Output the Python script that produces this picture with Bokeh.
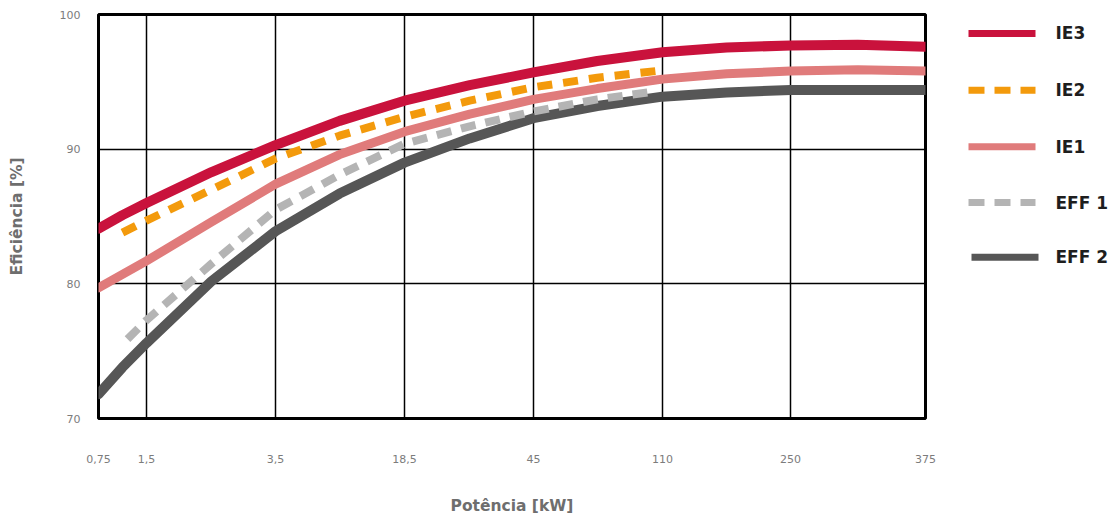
import numpy as np
from bokeh.plotting import figure
from bokeh.layouts import row
from bokeh.models import Range1d, FixedTicker
from bokeh.core.properties import value
from bokeh.embed import file_html
from bokeh.resources import INLINE

# ---- data ----
tick_kw = [0.75, 1.5, 3.5, 18.5, 45, 110, 250, 375]
tick_labels = ["0,75", "1,5", "3,5", "18,5", "45", "110", "250", "375"]
y_ticks = [70, 80, 90, 100]

kw_full = [0.75, 1.06, 1.5, 2.3, 3.5, 8, 18.5, 29, 45, 70, 110, 166, 250, 306, 375]
ie3 = [84.1, 85.1, 86.0, 88.3, 90.3, 92.1, 93.6, 94.75, 95.7, 96.55, 97.2, 97.55, 97.7, 97.75, 97.6]
ie1 = [79.7, 80.7, 81.7, 84.6, 87.4, 89.6, 91.3, 92.6, 93.7, 94.5, 95.2, 95.6, 95.8, 95.9, 95.8]
eff2 = [71.8, 73.8, 75.6, 80.2, 83.9, 86.7, 89.0, 90.8, 92.3, 93.2, 93.9, 94.2, 94.4, 94.4, 94.4]

kw_ie2 = [1.06, 1.5, 2.3, 3.5, 8, 18.5, 29, 45, 70, 105]
ie2 = [83.8, 84.7, 87.0, 89.3, 91.0, 92.4, 93.6, 94.6, 95.3, 95.8]

kw_eff1 = [1.14, 1.5, 2.3, 3.5, 8, 18.5, 29, 45, 70, 105]
eff1 = [75.9, 77.3, 81.5, 85.5, 88.1, 90.4, 91.7, 92.8, 93.7, 94.3]

series_names = ["IE3", "IE2", "IE1", "EFF 1", "EFF 2"]

# ---- layout / style ----
tick_pos = [0, 48, 177, 306, 435, 564, 692, 827]   # evenly spaced category axis (screen-like units)


def xpos(kw):
    return np.interp(np.log(np.asarray(kw, dtype=float)), np.log(tick_kw), tick_pos)


FONT = "DejaVu Sans"
colors = {"IE3": "#C9123C", "IE2": "#F39A0C", "IE1": "#E07B7B", "EFF 1": "#B4B4B4", "EFF 2": "#565656"}
dashes = {"IE3": "solid", "IE2": "16 10", "IE1": "solid", "EFF 1": "16 10", "EFF 2": "solid"}

p = figure(width=940, height=517, output_backend="svg", toolbar_location=None,
           x_range=Range1d(tick_pos[0], tick_pos[-1]), y_range=Range1d(70, 100),
           min_border_left=98, min_border_right=15, min_border_top=14, min_border_bottom=97)
p.background_fill_color = "white"
p.border_fill_color = "white"
p.outline_line_color = "black"
p.outline_line_width = 3

# axes
p.xaxis.ticker = FixedTicker(ticks=tick_pos)
p.xaxis.major_label_overrides = {t: l for t, l in zip(tick_pos, tick_labels)}
p.yaxis.ticker = FixedTicker(ticks=y_ticks)
for ax in (p.xaxis[0], p.yaxis[0]):
    ax.axis_line_color = None
    ax.major_tick_line_color = None
    ax.minor_tick_line_color = None
    ax.major_label_text_font = FONT
    ax.major_label_text_font_size = "11px"
    ax.major_label_text_color = "#7c7c7c"
    ax.axis_label_text_font = FONT
    ax.axis_label_text_font_size = "15.5px"
    ax.axis_label_text_font_style = "bold"
    ax.axis_label_text_color = "#6e6e6e"
    ax.axis_label_standoff = 31
p.xaxis.major_label_standoff = 30
p.yaxis.major_label_standoff = 12
p.xaxis.axis_label = "Potência [kW]"
p.yaxis.axis_label = "Eficiência [%]"

# grid
p.xgrid.ticker = FixedTicker(ticks=tick_pos[1:-1])
p.ygrid.ticker = FixedTicker(ticks=y_ticks[1:-1])
p.xgrid.grid_line_color = "black"
p.ygrid.grid_line_color = "black"
p.xgrid.grid_line_width = 1.5
p.ygrid.grid_line_width = 1.5

# curves
p.line(xpos(kw_full), eff2, line_color=colors["EFF 2"], line_width=10, line_cap="round", line_join="round")
p.line(xpos(kw_eff1), eff1, line_color=colors["EFF 1"], line_width=8, line_dash="15 10")
p.line(xpos(kw_full), ie1, line_color=colors["IE1"], line_width=9, line_cap="round", line_join="round")
p.line(xpos(kw_ie2), ie2, line_color=colors["IE2"], line_width=8, line_dash="15 11")
p.line(xpos(kw_full), ie3, line_color=colors["IE3"], line_width=10, line_cap="round", line_join="round")

# ---- legend panel (its frame is aligned with the main frame: screen y 14..420) ----
lg = figure(width=180, height=517, output_backend="svg", toolbar_location=None,
            x_range=Range1d(940, 1120), y_range=Range1d(420, 14),
            min_border_left=0, min_border_right=0, min_border_top=14, min_border_bottom=97,
            outline_line_color=None)
lg.axis.visible = False
lg.grid.visible = False
lg.background_fill_color = "white"
lg.border_fill_color = "white"

legend_y = [33, 90, 147, 203, 258]
glyph_x0 = [968, 968, 968, 968, 971]
glyph_len = 67
for name, yy, x0 in zip(series_names, legend_y, glyph_x0):
    lg.line([x0, x0 + glyph_len], [yy, yy], line_color=colors[name], line_width=7,
            line_dash=dashes[name])
lg.text(x=[1055] * len(series_names), y=legend_y, text=series_names,
        text_font=value(FONT), text_font_size="17px", text_font_style="bold",
        text_color="#1e1e1e", text_baseline="middle", text_align="left")

layout = row(p, lg, spacing=0)
open("out.html", "w").write(file_html(layout, INLINE))
